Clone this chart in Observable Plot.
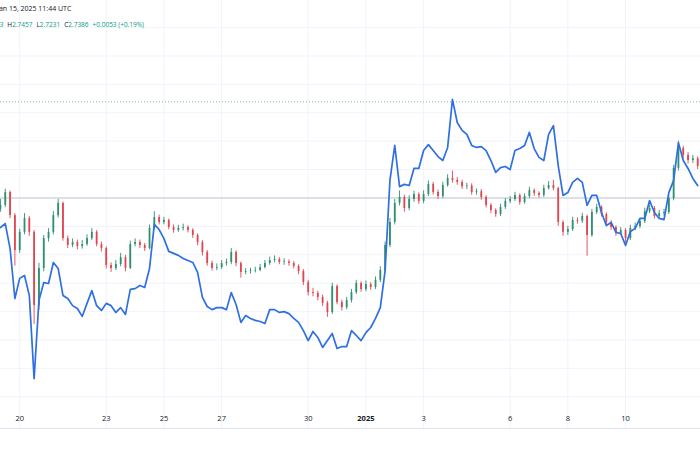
<!DOCTYPE html>
<html><head><meta charset="utf-8">
<script src="https://cdn.jsdelivr.net/npm/d3@7"></script>
<script src="https://cdn.jsdelivr.net/npm/@observablehq/plot@0.6"></script>
<style>
body{margin:0;background:#fff;font-family:"Open Sans",sans-serif}
#wrap{position:relative;width:700px;height:450px;overflow:hidden}
.h{position:absolute;white-space:nowrap;font-size:7px;line-height:8px;color:#131722}
#ohlc{display:flex;gap:4px;font-size:6.5px}
.v{color:#089981}
</style></head>
<body>
<div id="wrap">
  <div id="chart"></div>
  <div class="h" style="left:-3px;top:5px">Jan 15, 2025 11:44 UTC</div>
  <div class="h" id="ohlc" style="left:-22px;top:21px">
    <span>O<span class="v">2.7333</span></span>
    <span>H<span class="v">2.7457</span></span>
    <span>L<span class="v">2.7231</span></span>
    <span>C<span class="v">2.7386</span></span>
    <span class="v">+0.0053 (+0.19%)</span>
  </div>
</div>
<script>
// 4-hour candles starting Dec 19 2024 08:00 UTC
const candleStart = Date.UTC(2024, 11, 19, 8);
const candleHours = 4;
const firstOpen = 2.360;
const closes = [
2.374,2.419,2.338,2.215,2.279,2.328,2.279,2.021,2.152,2.257,
2.279,2.338,2.381,2.257,2.233,2.243,2.229,2.236,2.257,2.279,
2.236,2.222,2.162,2.152,2.166,2.190,2.152,2.236,2.243,2.233,
2.222,2.293,2.331,2.314,2.321,2.296,2.286,2.293,2.296,2.286,
2.268,2.243,2.208,2.169,2.152,2.155,2.169,2.173,2.208,2.169,
2.138,2.141,2.143,2.145,2.155,2.169,2.180,2.183,2.173,2.175,
2.169,2.159,2.141,2.102,2.067,2.064,2.050,2.029,1.997,2.088,
2.032,2.014,2.039,2.067,2.099,2.078,2.095,2.085,2.110,2.145,
2.233,2.314,2.381,2.402,2.363,2.395,2.412,2.388,2.412,2.448,
2.419,2.405,2.444,2.469,2.462,2.455,2.440,2.442,2.419,2.422,
2.402,2.374,2.356,2.342,2.367,2.388,2.395,2.409,2.384,2.405,
2.426,2.416,2.409,2.433,2.444,2.433,2.314,2.279,2.289,2.321,
2.318,2.335,2.268,2.349,2.367,2.342,2.314,2.296,2.275,2.286,
2.257,2.293,2.300,2.317,2.352,2.363,2.335,2.345,2.349,2.398,
2.504,2.574,2.550,2.532,2.538,2.511];
const highs = [
2.395,2.431,2.425,2.345,2.290,2.345,2.335,2.285,2.170,2.268,
2.292,2.352,2.395,2.386,2.266,2.256,2.252,2.250,2.270,2.292,
2.285,2.245,2.228,2.172,2.180,2.205,2.198,2.248,2.256,2.252,
2.240,2.305,2.352,2.340,2.332,2.326,2.305,2.304,2.308,2.302,
2.292,2.274,2.250,2.215,2.178,2.168,2.180,2.185,2.222,2.214,
2.175,2.152,2.153,2.156,2.166,2.180,2.192,2.196,2.190,2.186,
2.182,2.176,2.165,2.148,2.110,2.082,2.072,2.058,2.036,2.100,
2.094,2.040,2.050,2.078,2.110,2.105,2.108,2.102,2.122,2.158,
2.245,2.328,2.395,2.425,2.410,2.408,2.424,2.418,2.425,2.460,
2.455,2.428,2.456,2.482,2.495,2.472,2.462,2.452,2.450,2.432,
2.430,2.408,2.380,2.362,2.378,2.398,2.405,2.420,2.414,2.415,
2.438,2.432,2.422,2.445,2.458,2.462,2.438,2.320,2.300,2.332,
2.330,2.346,2.340,2.360,2.378,2.372,2.348,2.320,2.302,2.296,
2.292,2.304,2.312,2.328,2.364,2.375,2.370,2.356,2.360,2.410,
2.515,2.600,2.582,2.560,2.550,2.545];
const lows = [
2.350,2.366,2.327,2.160,2.205,2.270,2.265,1.955,2.005,2.140,
2.245,2.270,2.330,2.248,2.222,2.225,2.218,2.220,2.230,2.250,
2.228,2.210,2.150,2.138,2.145,2.158,2.140,2.148,2.228,2.222,
2.212,2.218,2.288,2.305,2.306,2.288,2.276,2.279,2.284,2.277,
2.258,2.232,2.196,2.160,2.143,2.144,2.148,2.160,2.165,2.158,
2.118,2.130,2.132,2.136,2.140,2.150,2.163,2.172,2.165,2.163,
2.160,2.150,2.130,2.092,2.055,2.052,2.038,2.018,1.980,1.990,
2.024,2.002,2.006,2.030,2.060,2.068,2.070,2.075,2.078,2.102,
2.140,2.225,2.305,2.372,2.350,2.355,2.385,2.378,2.380,2.405,
2.410,2.395,2.398,2.438,2.452,2.445,2.430,2.430,2.410,2.410,
2.392,2.365,2.345,2.332,2.335,2.360,2.380,2.388,2.375,2.378,
2.398,2.406,2.400,2.402,2.428,2.425,2.300,2.265,2.268,2.282,
2.308,2.310,2.195,2.262,2.342,2.333,2.305,2.286,2.265,2.268,
2.240,2.250,2.285,2.292,2.310,2.345,2.326,2.328,2.336,2.342,
2.390,2.495,2.538,2.520,2.522,2.500];
// comparison series (blue line), same timestamps
const compare = [
2.296,2.310,2.222,2.046,2.117,2.127,2.057,1.764,2.039,2.102,
2.099,2.173,2.152,2.057,2.046,2.021,2.011,1.983,2.029,2.074,
2.021,2.004,2.029,2.021,1.997,2.014,1.990,2.078,2.081,2.092,
2.085,2.152,2.307,2.289,2.257,2.212,2.205,2.198,2.187,2.180,
2.173,2.138,2.050,2.018,2.007,2.014,2.014,2.007,2.067,2.025,
1.962,1.986,1.976,1.969,1.965,1.958,2.007,2.007,1.997,2.000,
1.993,1.976,1.962,1.933,1.898,1.930,1.909,1.874,1.898,1.923,
1.870,1.877,1.877,1.933,1.916,1.898,1.926,1.944,1.976,2.014,
2.145,2.462,2.585,2.440,2.448,2.444,2.504,2.504,2.567,2.588,
2.567,2.546,2.532,2.578,2.747,2.666,2.638,2.624,2.585,2.578,
2.581,2.567,2.532,2.490,2.507,2.511,2.500,2.567,2.574,2.585,
2.631,2.574,2.543,2.532,2.624,2.655,2.514,2.409,2.419,2.455,
2.469,2.455,2.374,2.409,2.409,2.349,2.303,2.314,2.279,2.275,
2.233,2.282,2.293,2.328,2.328,2.391,2.349,2.328,2.324,2.419,
2.462,2.595,2.532,2.504,2.469,2.444];

const tickDays = ["2024-12-20","2024-12-23","2024-12-25","2024-12-27","2024-12-30","2025-01-01","2025-01-03","2025-01-06","2025-01-08","2025-01-10"];
const tickLabels = ["20","23","25","27","30","2025","3","6","8","10"];
const gridValues = [1.7,1.8,1.9,2.0,2.1,2.2,2.3,2.4,2.5,2.6,2.7,2.8,2.9,3.0];
const levelLine = 2.4;
const lastPrice = 2.7386;
const xDomain = [new Date(Date.UTC(2024,11,19,8,2)), new Date(Date.UTC(2025,0,12,14,21))];
const yDomain = [1.5884, 3.0954];
const upColor = "#2f8f6f", downColor = "#e0464f", blueColor = "#2f6fe4";

const rows = closes.map((c, i) => ({
  date: new Date(candleStart + i * candleHours * 3600e3),
  open: i ? closes[i - 1] : firstOpen,
  close: c, high: highs[i], low: lows[i], cmp: compare[i]
}));
rows.forEach(d => d.color = d.close >= d.open ? upColor : downColor);
const ticks = tickDays.map((s, i) => ({date: new Date(s + "T00:00:00Z"), label: tickLabels[i]}));

const chart = Plot.plot({
  width: 700, height: 450,
  marginTop: 0, marginRight: 0, marginBottom: 22, marginLeft: 0,
  style: {background: "#fff", fontFamily: "Open Sans, sans-serif"},
  x: {type: "utc", domain: xDomain, axis: null},
  y: {domain: yDomain, axis: null},
  color: {type: "identity"},
  marks: [
    Plot.ruleY(gridValues, {stroke: "#f0f3fa", strokeWidth: 1}),
    Plot.ruleX(ticks, {x: "date", stroke: "#f0f3fa", strokeWidth: 1}),
    Plot.ruleY([levelLine], {stroke: "#c3c6ce", strokeWidth: 1}),
    Plot.ruleY([lastPrice], {stroke: "#7dbdb2", strokeWidth: 1, strokeDasharray: "1,2"}),
    Plot.ruleX(rows, {x: "date", y1: "low", y2: "high", stroke: "color", strokeWidth: 0.9}),
    Plot.ruleX(rows, {x: "date", y1: "open", y2: "close", stroke: "color", strokeWidth: 1.8}),
    Plot.line(rows, {x: "date", y: "cmp", stroke: blueColor, strokeWidth: 1.7, strokeLinejoin: "round"}),
    Plot.frame({anchor: "bottom", stroke: "#e0e3eb"}),
    Plot.text(ticks.filter(d => d.label !== "2025"), {x: "date", text: "label", frameAnchor: "bottom", dy: -8, fontSize: 7.5, fill: "#131722"}),
    Plot.text(ticks.filter(d => d.label === "2025"), {x: "date", text: "label", frameAnchor: "bottom", dy: -8, fontSize: 7.5, fontWeight: "bold", fill: "#131722"})
  ]
});
document.getElementById("chart").appendChild(chart);
</script>
</body></html>
